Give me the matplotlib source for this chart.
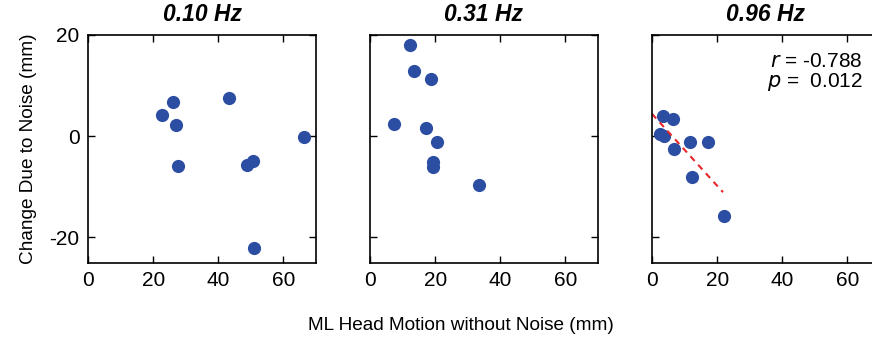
import numpy as np
import matplotlib
matplotlib.use('Agg')
from matplotlib import pyplot as plt

plt.rcParams['font.family'] = ['Liberation Sans', 'DejaVu Sans']
plt.rcParams['axes.unicode_minus'] = False

####

titles = ['0.10 Hz', '0.31 Hz', '0.96 Hz']

x_010 = [22.8, 26.2, 27.0, 27.7, 43.3, 48.9, 50.6, 50.9, 66.4]
y_010 = [4.1, 6.7, 2.1, -6.0, 7.5, -5.8, -5.0, -22.1, -0.2]

x_031 = [12.4, 13.4, 18.8, 7.4, 17.1, 20.5, 19.4, 19.4, 33.6]
y_031 = [18.1, 12.9, 11.2, 2.3, 1.7, -1.2, -5.1, -6.1, -9.7]

x_096 = [3.4, 6.5, 2.4, 3.7, 6.9, 11.8, 17.1, 12.3, 22.1]
y_096 = [3.9, 3.3, 0.5, 0.1, -2.6, -1.2, -1.1, -8.1, -15.9]

# fit line for the 0.96 Hz panel
fit_x = [0.0, 21.8]
fit_y = [4.4, -11.1]
r_text = '$\\it{r}$ = -0.788'
p_text = '$\\it{p}$ =  0.012'

xs = [x_010, x_031, x_096]
ys = [y_010, y_031, y_096]

####

dot_color = '#2b4ea2'
fs = 15       # ticks / annotation
fs_lab = 13.7 # axis labels

fig = plt.figure(figsize=(8.72, 3.43), dpi=100)

lefts = [88, 370, 652]
axes = []
for i in range(3):
  ax = fig.add_axes([lefts[i] / 872, 1 - 262.5 / 343, 228 / 872, 227.5 / 343])
  ax.plot(xs[i], ys[i], 'o', color=dot_color, markersize=9.5, markeredgewidth=0)
  ax.set_xlim([0, 70])
  ax.set_ylim([-25, 20])
  ax.set_xticks([0, 20, 40, 60])
  ax.set_yticks([-20, 0, 20])
  ax.tick_params(direction='in', length=5, width=1.0, top=True, right=True,
                 labelsize=fs, pad=6)
  for sp in ax.spines.values():
    sp.set_linewidth(1.2)
  ax.set_title(titles[i], fontsize=16.5, fontweight='bold', fontstyle='italic', pad=10)
  if i > 0:
    ax.set_yticklabels([])
  axes.append(ax)

axes[0].set_ylabel('Change Due to Noise (mm)', fontsize=fs_lab, labelpad=9)

ax = axes[2]
ax.plot(fit_x, fit_y, '--', color='#e8262a', linewidth=1.5, dashes=(3, 2.5))
ax.text(64.7, 14.8, r_text, fontsize=fs, ha='right', va='center')
ax.text(64.7, 10.8, p_text, fontsize=fs, ha='right', va='center')

fig.text(461 / 872, 1 - 325 / 343, 'ML Head Motion without Noise (mm)',
         fontsize=fs_lab, ha='center', va='center')

fig.savefig('out.png', dpi=100)
